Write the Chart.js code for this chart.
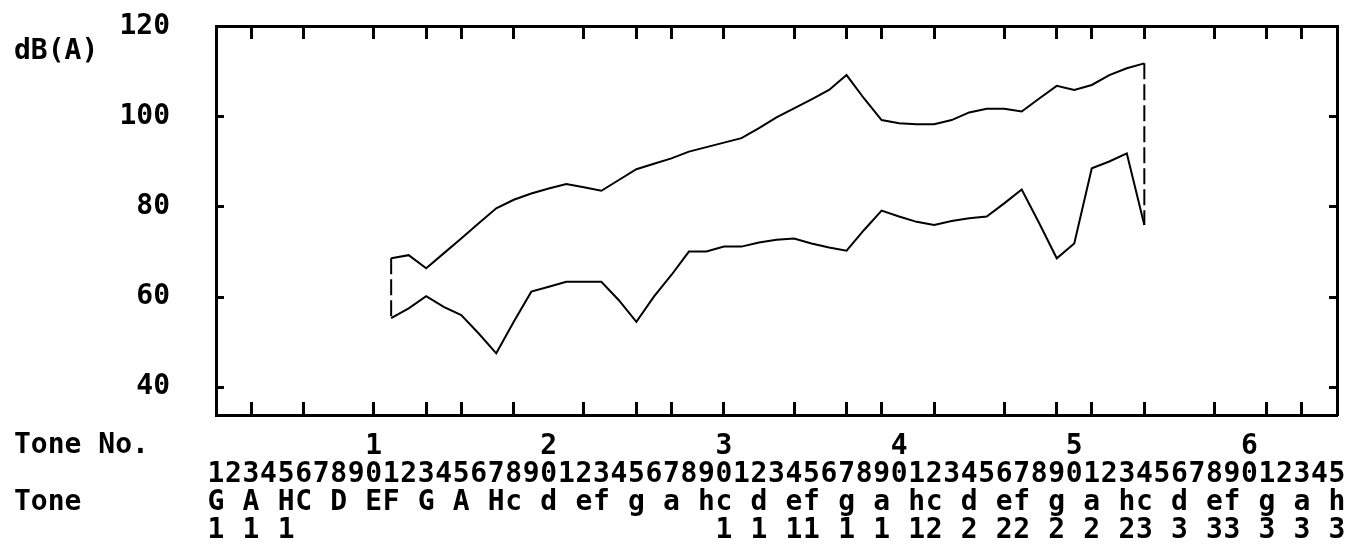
<!DOCTYPE html>
<html>
<head>
<meta charset="utf-8">
<title>Dynamic range dB(A)</title>
<script src="https://cdn.jsdelivr.net/npm/chart.js@4.4.1/dist/chart.umd.min.js"></script>
<style>
    body { margin: 0; background: #fff; }
    canvas { display: block; }
</style>
</head>
<body>
<canvas id="dynamicRange" width="1345" height="548"></canvas>
<script>
// tone numbers that were measured
const tones = [11, 12, 13, 14, 15, 16, 17, 18, 19, 20, 21, 22, 23, 24, 25, 26, 27, 28, 29, 30, 31, 32,
               33, 34, 35, 36, 37, 38, 39, 40, 41, 42, 43, 44, 45, 46, 47, 48, 49, 50, 51, 52, 53, 54];
// loudest level per tone
const maxDb = [68.6, 69.3, 66.4, 69.7, 73.0, 76.4, 79.7, 81.6, 83.0, 84.1, 85.1, 84.4, 83.6, 86.0, 88.4,
               89.6, 90.8, 92.3, 93.3, 94.3, 95.3, 97.5, 99.9, 101.9, 103.9, 106.0, 109.3, 104.1, 99.3,
               98.6, 98.4, 98.4, 99.3, 101.0, 101.8, 101.8, 101.2, 104.1, 106.9, 106.0, 107.1, 109.3,
               110.8, 111.9];
// softest level per tone
const minDb = [55.3, 57.5, 60.2, 57.8, 56.0, 51.9, 47.5, 54.5, 61.2, 62.3, 63.4, 63.4, 63.4, 59.3, 54.5,
               60.1, 64.9, 70.1, 70.1, 71.2, 71.2, 72.1, 72.7, 73.0, 71.9, 71.0, 70.3, 74.9, 79.2,
               77.9, 76.7, 76.0, 76.9, 77.5, 77.9, 80.8, 83.9, 76.4, 68.6, 71.9, 88.6, 90.1, 91.9, 76.0];

const dbTicks = [40, 60, 80, 100, 120];
const markedTones = [3, 6, 10, 13, 15, 18, 22, 25, 27, 30, 34, 37, 39, 42, 46, 49, 51, 54, 58, 61, 63];
// one character per tone number 1..65
const toneNames = 'G A HC D EF G A Hc d ef g a hc d ef g a hc d ef g a hc d ef g a h';
const octaveRow = '1 1 1' + ' '.repeat(24) + '1 1 11 1 1 12 2 22 2 2 23 3 33 3 3 3';

const fonte = { family: "'DejaVu Sans Mono', monospace", size: 28, weight: 'bold', lineHeight: '28px' };
const preto = '#000';

function pontos(valores) {
    return tones.map((t, i) => ({ x: t, y: valores[i] }));
}

function bordaVertical(i) {
    return [{ x: tones[i], y: maxDb[i] }, { x: tones[i], y: minDb[i] }];
}

function semPadding(scale) {
    scale.paddingLeft = 0;
    scale.paddingRight = 0;
    scale.paddingTop = 0;
    scale.paddingBottom = 0;
}

function corTick(ctx) {
    return markedTones.includes(ctx.tick.value) ? preto : 'rgba(0,0,0,0)';
}

const titulos = {
    id: 'titulos',
    afterDraw(chart) {
        const ctx = chart.ctx;
        ctx.save();
        ctx.font = "bold 28px 'DejaVu Sans Mono', monospace";
        ctx.fillStyle = preto;
        ctx.textAlign = 'left';
        ctx.textBaseline = 'middle';
        ctx.fillText('dB(A)', 14, 52);
        ctx.fillText('Tone No.', 14, 446);
        ctx.fillText('Tone', 14, 503);
        ctx.restore();
    }
};

const lineStyle = { borderColor: preto, borderWidth: 2, pointRadius: 0, tension: 0, fill: false };

new Chart(document.getElementById('dynamicRange'), {
    type: 'line',
    data: {
        datasets: [
            Object.assign({ label: 'max', data: pontos(maxDb) }, lineStyle),
            Object.assign({ label: 'min', data: pontos(minDb) }, lineStyle),
            Object.assign({ label: 'start', data: bordaVertical(0), borderDash: [16, 5] }, lineStyle),
            Object.assign({ label: 'end', data: bordaVertical(tones.length - 1), borderDash: [16, 5] }, lineStyle)
        ]
    },
    plugins: [titulos],
    options: {
        responsive: false,
        animation: false,
        layout: { padding: 0 },
        plugins: { legend: { display: false }, tooltip: { enabled: false } },
        scales: {
            x: {
                type: 'linear', position: 'bottom', min: 1, max: 65,
                afterBuildTicks: s => { s.ticks = Array.from(toneNames, (_, i) => ({ value: i + 1 })); },
                afterFit: s => { s.height = 133; semPadding(s); },
                grid: { drawOnChartArea: false, tickLength: -13, tickWidth: 3, color: corTick },
                border: { color: preto, width: 3 },
                ticks: {
                    autoSkip: false, maxRotation: 0, minRotation: 0, padding: 31, color: preto, font: fonte,
                    callback: v => [
                        v % 10 === 0 ? String(v / 10) : '',
                        String(v % 10),
                        toneNames[v - 1],
                        octaveRow[v - 1]
                    ]
                }
            },
            xTop: {
                axis: 'x', type: 'linear', position: 'top', min: 1, max: 65,
                afterBuildTicks: s => { s.ticks = markedTones.map(v => ({ value: v })); },
                afterFit: s => { s.height = 26; semPadding(s); },
                grid: { drawOnChartArea: false, tickLength: -13, tickWidth: 3, color: preto },
                border: { color: preto, width: 3 },
                ticks: { display: false }
            },
            y: {
                type: 'linear', position: 'left', min: 33.8, max: 120.2,
                afterBuildTicks: s => { s.ticks = dbTicks.map(v => ({ value: v })); },
                afterFit: s => { s.width = 216; semPadding(s); },
                grid: { drawOnChartArea: false, tickLength: -8, tickWidth: 3, color: preto },
                border: { color: preto, width: 3 },
                ticks: { padding: 54, color: preto, font: fonte }
            },
            yRight: {
                axis: 'y', type: 'linear', position: 'right', min: 33.8, max: 120.2,
                afterBuildTicks: s => { s.ticks = dbTicks.map(v => ({ value: v })); },
                afterFit: s => { s.width = 8; semPadding(s); },
                grid: { drawOnChartArea: false, tickLength: -8, tickWidth: 3, color: preto },
                border: { color: preto, width: 3 },
                ticks: { display: false }
            }
        }
    }
});
</script>
</body>
</html>
